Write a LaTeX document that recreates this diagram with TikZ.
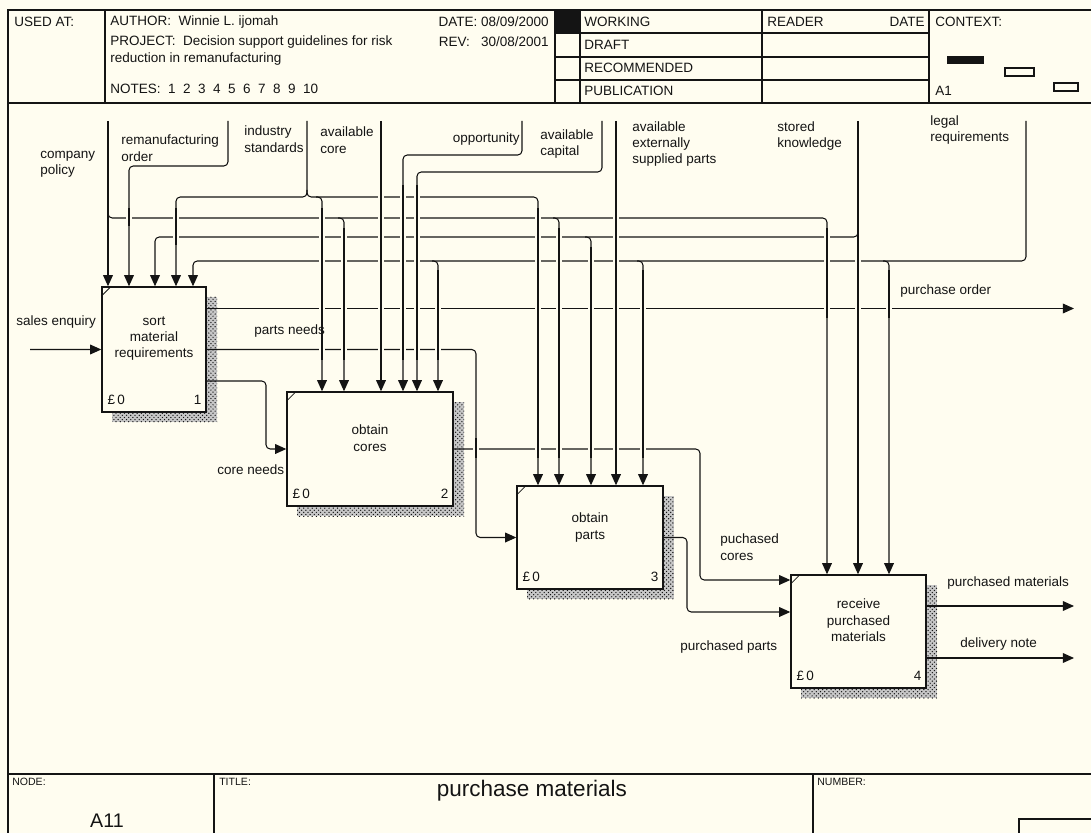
\documentclass[tikz,border=0pt]{standalone}
\usepackage{fontspec}
\setmainfont{Liberation Sans}
\usepackage{tikz}
\usetikzlibrary{arrows.meta, calc, fit, patterns}
\definecolor{paper}{RGB}{255,253,240}
\definecolor{ink}{RGB}{20,20,20}

\begin{document}
\begin{tikzpicture}[x=0.025cm, y=-0.025cm,
    every node/.style={font=\fontsize{9.6}{11.7}\selectfont, inner sep=0pt, text=ink},
    frame/.style={draw=ink, line width=1pt},
    actbox/.style={draw=ink, line width=1pt, fill=paper, inner sep=0pt},
    flow/.style={draw=ink, line width=0.75pt, rounded corners=3pt, -{Triangle[length=8pt, width=7pt]}},
    bridge/.style={draw=ink, line width=0.75pt, preaction={draw=paper, line width=4.5pt}},
    lbl/.style={align=left, anchor=west},
    boxtxt/.style={align=center},
    hatch/.style={preaction={fill=black!22}, pattern=crosshatch dots, pattern color=ink}]

  % Sheet
  \useasboundingbox (0,0) rectangle (1091,833);
  \clip (0,0) rectangle (1091,833);
  \fill[paper] (0,0) rectangle (1091,833);

  % Header frame
  \draw[frame] (8,833) |- (1091,10);
  \draw[frame] (8,103) -- (1091,103);
  \draw[frame] (105,10) -- (105,103);
  \draw[frame] (555,10) -- (555,103);
  \fill[ink] (555,10) rectangle (580,33);
  \draw[frame] (580,10) -- (580,103);
  \draw[frame] (762,10) -- (762,103);
  \draw[frame] (929,10) -- (929,103);
  \draw[frame] (555,33) -- (929,33) (555,57) -- (929,57) (555,80) -- (929,80);

  % Header texts
  \node[lbl] (hused) at (14,22) {USED AT:};
  \node[lbl] (hauth) at (110,22) {AUTHOR:\ \ Winnie L. ijomah};
  \node[lbl, anchor=east] (hdate) at (549,22) {DATE: 08/09/2000};
  \node[lbl] (hproj) at (110,42) {PROJECT:\ \ Decision support guidelines for risk};
  \node[lbl, anchor=east] (hrev) at (549,42) {REV:\ \ \ 30/08/2001};
  \node[lbl] (hproj2) at (110,59) {reduction in remanufacturing};
  \node[lbl] (hnotes) at (110,89) {NOTES:\ \ 1\ \ 2\ \ 3\ \ 4\ \ 5\ \ 6\ \ 7\ \ 8\ \ 9\ \ 10};
  \node[lbl] (swork) at (584,22) {WORKING};
  \node[lbl] (sdraft) at (584,45) {DRAFT};
  \node[lbl] (srec) at (584,68) {RECOMMENDED};
  \node[lbl] (spub) at (584,91) {PUBLICATION};
  \node[lbl] (hreader) at (767,22) {READER};
  \node[lbl, anchor=east] (hrdate) at (925,22) {DATE};
  \node[lbl] (hctx) at (935,22) {CONTEXT:};
  \node[lbl] (ha1) at (935,91) {A1};
  \fill[ink] (947,56) rectangle (984,64);
  \draw[ink, line width=0.75pt] (1005,68) rectangle (1034,76);
  \draw[ink, line width=0.75pt] (1054,83) rectangle (1078,91);

  % Footer
  \draw[frame] (8,774) -- (1091,774);
  \draw[frame] (214,774) -- (214,833);
  \draw[frame] (813,774) -- (813,833);
  \draw[frame] (1019,833) |- (1091,819);
  \node[lbl, font=\fontsize{7.5}{9}\selectfont] (fnode) at (12,782) {NODE:};
  \node[font=\fontsize{14}{16}\selectfont] (fa11) at (107,821) {A11};
  \node[lbl, font=\fontsize{7.5}{9}\selectfont] (ftitle) at (219,782) {TITLE:};
  \node[font=\fontsize{16}{18}\selectfont] (fname) at (532,791) {purchase materials};
  \node[lbl, font=\fontsize{7.5}{9}\selectfont] (fnum) at (817,782) {NUMBER:};

  % Shadows of the activity boxes
  \foreach \xa/\ya/\xb/\yb in {102/287/206/412, 287/392/453/506, 517/486/663/589, 791/575/926/688}
    \fill[hatch] (\xa+10,\ya+10) rectangle (\xb+11,\yb+10);

  % Activity boxes
  \node[actbox, fit={(102,287) (206,412)}] (b1) {};
  \node[actbox, fit={(287,392) (453,506)}] (b2) {};
  \node[actbox, fit={(517,486) (663,589)}] (b3) {};
  \node[actbox, fit={(791,575) (926,688)}] (b4) {};

  \node[boxtxt] (b1t) at ($(b1)+(0,-11)$) {sort\\material\\requirements};
  \node[boxtxt] (b2t) at ($(b2)+(0,-11)$) {obtain\\cores};
  \node[boxtxt] (b3t) at ($(b3)+(0,-10)$) {obtain\\parts};
  \node[boxtxt] (b4t) at ($(b4)+(0,-11)$) {receive\\purchased\\materials};

  \foreach \b/\n in {b1/1, b2/2, b3/3, b4/4} {
    \node[anchor=south west] (\b-cost) at ($(\b.south west)+(6,-8)$) {£\,0};
    \node[anchor=south east] (\b-num) at ($(\b.south east)+(-5,-8)$) {\n};
    \draw[ink, line width=0.6pt] ($(\b.north west)+(0,10)$) -- ++(10,-10);
  }

  % Free ends of the arrows
  \coordinate (cpol) at (108,121);
  \coordinate (rmo) at (228,121);
  \coordinate (ind) at (307,121);
  \coordinate (core) at (381,121);
  \coordinate (opp) at (522,121);
  \coordinate (cap) at (602,121);
  \coordinate (ext) at (616,121);
  \coordinate (sk) at (858,121);
  \coordinate (legal) at (1026,121);
  \coordinate (se) at (30,349.5);
  \coordinate (po) at (1074,308.5);
  \coordinate (pm) at (1074,606);
  \coordinate (dn) at (1074,658);

  % Controls
  \draw[flow] (cpol) -- (cpol |- b1.north);
  \draw[flow] (108,212) |- (827,218) -- (827,0 |- b4.north);
  \draw[flow] (338,218) -| (344,0 |- b2.north);
  \draw[flow] (553,218) -| (559,0 |- b3.north);
  \draw[flow] (rmo) |- (129,166) -- (129,0 |- b1.north);
  \draw[flow] (ind) |- (176,197) -- (176,0 |- b1.north);
  \draw[flow] (307,190) |- (538,197) -- (538,0 |- b3.north);
  \draw[flow] (316,197) -| (322,0 |- b2.north);
  \draw[flow] (core) -- (core |- b2.north);
  \draw[flow] (opp) |- (403,155) -- (403,0 |- b2.north);
  \draw[flow] (cap) |- (417,172) -- (417,0 |- b2.north);
  \draw[flow] (ext) -- (ext |- b3.north);
  \draw[flow] (sk) -- (sk |- b4.north);
  \draw[flow] (858,230) |- (155,237) -- (155,0 |- b1.north);
  \draw[flow] (585,237) -| (591,0 |- b3.north);
  \draw[flow] (legal) |- (193,261) -- (193,0 |- b1.north);
  \draw[flow] (432,261) -| (438,0 |- b2.north);
  \draw[flow] (637,261) -| (643,0 |- b3.north);
  \draw[flow] (883,261) -| (889,0 |- b4.north);

  % Inputs and outputs
  \draw[flow] (se) -- (b1.west);
  \draw[flow] (b1.east |- po) -- (po);
  \draw[flow] (b1.east) -| (476,440) |- (b3.west);
  \draw[flow] ($(b1.east)+(0,31.5)$) -| (266,420) |- (b2.west);
  \draw[flow] (b2.east) -| (700,520) |- ($(b4.west)+(0,-51.5)$);
  \draw[flow] (b3.east) -| (687,590) |- ($(b4.west)+(0,-19.5)$);
  \draw[flow] (b4.east |- pm) -- (pm);
  \draw[flow] (b4.east |- dn) -- (dn);

  % Gaps where vertical lines pass over horizontal ones
  \foreach \x/\ya/\yb in {129/208/226, 176/208/245, 322/208/360, 344/228/360,
      381/185/360, 403/185/360, 417/185/360, 438/270/360, 476/438/458,
      538/208/458, 559/228/458, 591/247/458, 616/208/458, 643/270/458,
      827/228/318, 858/250/318, 889/270/318}
    \draw[bridge] (\x,\ya) -- (\x,\yb);

  % Arrow labels
  \node[lbl] (tcpol) at (40,164) {company\\policy};
  \node[lbl] (trmo) at (121,148) {remanufacturing\\order};
  \node[lbl] (tind) at (244,139) {industry\\standards};
  \node[lbl] (tcore) at (320,140) {available\\core};
  \node[lbl, anchor=east] (topp) at (520,139) {opportunity};
  \node[lbl] (tcap) at (540,144) {available\\capital};
  \node[lbl] (textp) at (632,144) {available\\externally\\supplied parts};
  \node[lbl] (tsk) at (777,136) {stored\\knowledge};
  \node[lbl] (tlegal) at (930,130) {legal\\requirements};
  \node[lbl] (tse) at (16,322) {sales enquiry};
  \node[lbl] (tpn) at (254,331) {parts needs};
  \node[lbl] (tcn) at (217,470) {core needs};
  \node[lbl] (tpo) at (900,291) {purchase order};
  \node[lbl] (tpc) at (720,547) {puchased\\cores};
  \node[lbl] (tpp) at (680,647) {purchased parts};
  \node[lbl] (tpm) at (947,583) {purchased materials};
  \node[lbl] (tdn) at (960,644) {delivery note};
\end{tikzpicture}
\end{document}
